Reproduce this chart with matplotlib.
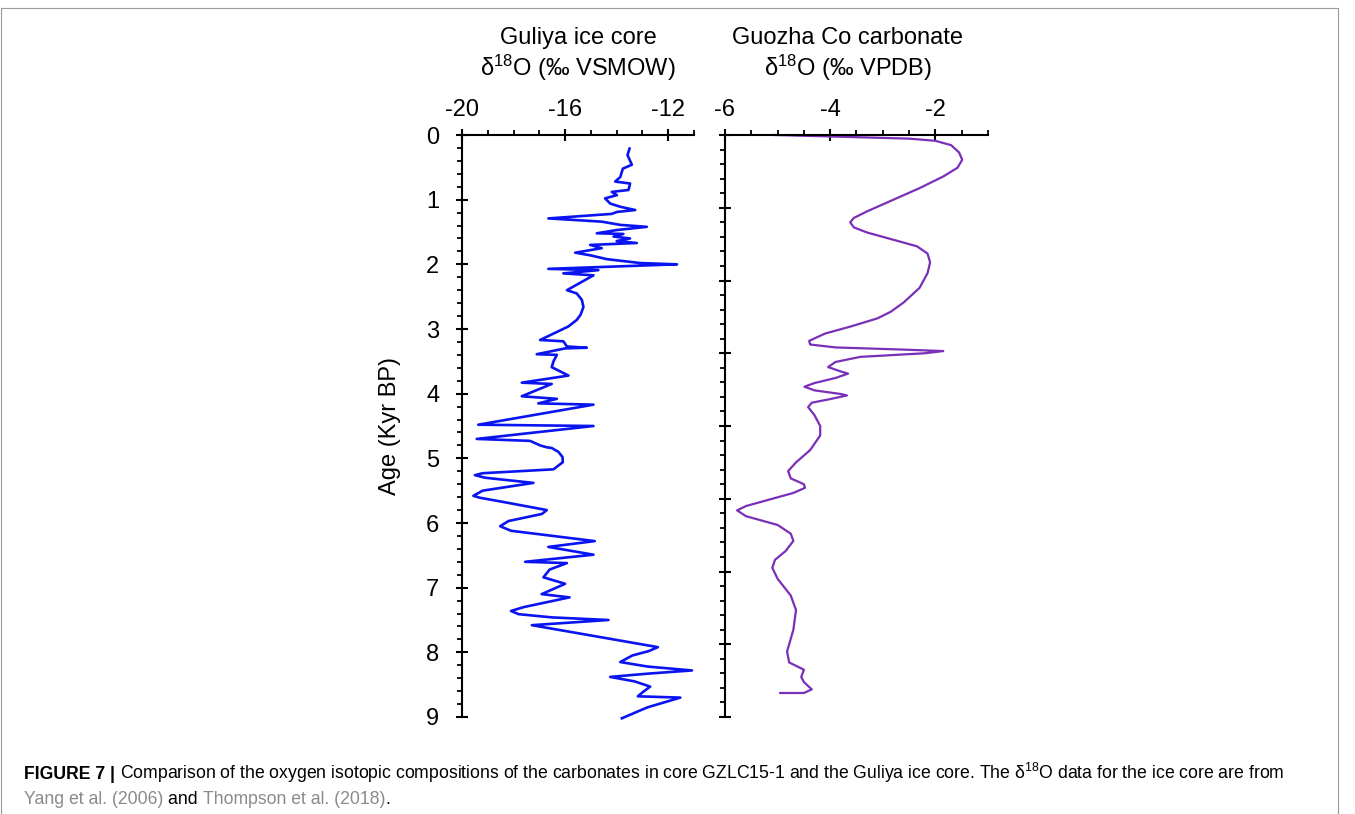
import matplotlib
matplotlib.use("Agg")
import matplotlib.pyplot as plt
from matplotlib.ticker import MultipleLocator
from matplotlib.lines import Line2D

plt.rcParams['font.family'] = ['Liberation Sans', 'DejaVu Sans']
plt.rcParams['mathtext.fontset'] = 'custom'
plt.rcParams['mathtext.rm'] = 'Liberation Sans'
plt.rcParams['mathtext.it'] = 'Liberation Sans:italic'
plt.rcParams['axes.unicode_minus'] = False

# Guliya ice core d18O (permil VSMOW) vs age (kyr BP)
guliya_age = [0.21, 0.31, 0.46, 0.52, 0.65, 0.72, 0.75, 0.85, 0.88, 0.93, 0.98, 1.06, 1.11, 1.16,
              1.19, 1.22, 1.29, 1.34, 1.39, 1.42, 1.47, 1.52, 1.53, 1.57, 1.60, 1.64, 1.67, 1.70,
              1.75, 1.82, 1.86, 1.92, 1.98, 2.00, 2.07, 2.09, 2.14, 2.17, 2.40, 2.45, 2.55, 2.66,
              2.78, 2.86, 2.96, 3.17, 3.19, 3.27, 3.29, 3.30, 3.39, 3.40, 3.50, 3.59, 3.72, 3.83,
              3.85, 4.04, 4.08, 4.15, 4.17, 4.48, 4.50, 4.70, 4.73, 4.80, 4.83, 4.84, 4.90, 4.98,
              5.06, 5.17, 5.23, 5.26, 5.30, 5.38, 5.50, 5.58, 5.61, 5.66, 5.80, 5.86, 5.97, 6.05,
              6.12, 6.28, 6.37, 6.49, 6.60, 6.62, 6.72, 6.84, 6.94, 7.10, 7.15, 7.30, 7.36, 7.41,
              7.46, 7.50, 7.58, 7.92, 7.98, 8.05, 8.15, 8.22, 8.28, 8.33, 8.38, 8.45, 8.53, 8.62,
              8.68, 8.70, 8.85, 9.02]
guliya_d18o = [-13.50, -13.58, -13.41, -13.76, -13.86, -14.06, -13.48, -13.54, -14.19, -13.99, -14.45,
               -14.25, -13.86, -13.28, -13.99, -14.19, -16.65, -14.58, -13.86, -12.83, -14.0, -14.77,
               -13.74, -14.12, -13.48, -14.0, -13.22, -15.03, -14.58, -15.61, -15.03, -14.38, -13.09,
               -11.66, -16.65, -14.71, -16.07, -14.90, -15.93, -15.55, -15.35, -15.29, -15.40, -15.55,
               -15.87, -16.97, -16.07, -15.93, -15.16, -16.0, -17.10, -16.32, -16.45, -16.52, -15.87,
               -17.68, -16.52, -17.68, -16.32, -17.04, -14.90, -19.37, -14.90, -19.43, -17.36, -16.97,
               -16.71, -16.52, -16.26, -16.10, -16.09, -16.45, -19.20, -19.50, -19.10, -17.23, -19.20,
               -19.56, -19.30, -18.60, -16.71, -16.90, -18.20, -18.52, -18.10, -14.85, -16.65, -14.90,
               -17.55, -15.93, -16.60, -16.84, -16.00, -16.91, -15.83, -17.60, -18.10, -17.80, -16.50,
               -14.32, -17.29, -12.40, -12.75, -13.40, -13.86, -12.80, -11.08, -12.80, -14.25, -13.30,
               -12.70, -13.00, -13.18, -11.53, -12.80, -13.80]

# Guozha Co carbonate d18O (permil VPDB), vertical position in the panel's own tick units
carb_pos = [0.0, 0.02, 0.05, 0.08, 0.14, 0.24, 0.34, 0.45, 0.57, 0.73, 0.89, 1.05, 1.14, 1.20,
            1.27, 1.34, 1.44, 1.53, 1.63, 1.75, 1.90, 2.10, 2.30, 2.43, 2.52, 2.63, 2.73, 2.83,
            2.88, 2.92, 2.95, 2.97, 3.00, 3.05, 3.12, 3.19, 3.25, 3.28, 3.34, 3.41, 3.46, 3.51,
            3.56, 3.58, 3.63, 3.68, 3.74, 3.85, 4.00, 4.13, 4.33, 4.50, 4.62, 4.72, 4.80, 4.85,
            4.92, 5.02, 5.10, 5.16, 5.24, 5.36, 5.48, 5.58, 5.72, 5.84, 5.95, 6.10, 6.33, 6.53,
            6.80, 7.10, 7.25, 7.35, 7.45, 7.52, 7.62, 7.67, 7.67]
carb_d18o = [-5.05, -4.0, -2.5, -2.0, -1.7, -1.55, -1.49, -1.58, -1.85, -2.3, -2.8, -3.3, -3.55,
             -3.62, -3.55, -3.3, -2.8, -2.35, -2.15, -2.1, -2.15, -2.3, -2.6, -2.85, -3.1, -3.6,
             -4.1, -4.4, -4.38, -3.9, -2.6, -1.85, -2.2, -3.43, -3.9, -4.04, -3.8, -3.66, -3.9,
             -4.3, -4.49, -4.3, -3.8, -3.68, -4.0, -4.35, -4.42, -4.3, -4.19, -4.19, -4.38, -4.65,
             -4.8, -4.75, -4.5, -4.48, -4.7, -5.2, -5.6, -5.77, -5.6, -5.0, -4.75, -4.70, -4.85,
             -5.05, -5.1, -5.0, -4.75, -4.65, -4.7, -4.82, -4.78, -4.5, -4.55, -4.5, -4.35, -4.5,
             -4.95]

W, H = 1355, 814
fig = plt.figure(figsize=(W / 100, H / 100), dpi=100)

def fbox(x0, y0, x1, y1):
    return [x0 / W, 1 - y1 / H, (x1 - x0) / W, (y1 - y0) / H]

ax1 = fig.add_axes(fbox(462, 135, 694, 717))
ax2 = fig.add_axes(fbox(725, 135, 988, 717))

ax1.plot(guliya_d18o, guliya_age, color='#0a14f0', lw=1.9, solid_joinstyle='round', clip_on=False)
ax2.plot(carb_d18o, carb_pos, color='#7a2fb8', lw=1.6, solid_joinstyle='round', clip_on=False)

ax1.set_xlim(-20, -11)
ax1.set_ylim(9, 0)
ax1.xaxis.set_major_locator(MultipleLocator(4))
ax1.xaxis.set_minor_locator(MultipleLocator(1))
ax1.yaxis.set_major_locator(MultipleLocator(1))
ax1.yaxis.set_minor_locator(MultipleLocator(0.2))
ax1.set_ylabel('Age (Kyr BP)', fontsize=17, labelpad=18)

ax2.set_xlim(-6, -1)
ax2.set_ylim(8, 0)
ax2.xaxis.set_major_locator(MultipleLocator(2))
ax2.xaxis.set_minor_locator(MultipleLocator(0.5))
ax2.yaxis.set_major_locator(MultipleLocator(1))
ax2.yaxis.set_minor_locator(MultipleLocator(0.2))
ax2.tick_params(axis='y', which='both', labelleft=False)

for ax in (ax1, ax2):
    for s in ('right', 'bottom'):
        ax.spines[s].set_visible(False)
    for s in ('top', 'left'):
        ax.spines[s].set_linewidth(1.5)
    ax.xaxis.tick_top()
    ax.tick_params(which='major', direction='inout', length=8.5, width=1.5, labelsize=17, pad=6)
    ax.tick_params(which='minor', direction='out', length=3.5, width=1.3)
    ax.tick_params(axis='y', which='major', pad=12)
    ax.set_facecolor('none')

fig.text(578 / W, 1 - 38 / H, 'Guliya ice core', ha='center', va='center', fontsize=17)
fig.text(578 / W, 1 - 68 / H, r'δ$^{18}$O (‰ VSMOW)', ha='center', va='center', fontsize=17)
fig.text(848 / W, 1 - 38 / H, 'Guozha Co carbonate', ha='center', va='center', fontsize=17)
fig.text(848 / W, 1 - 68 / H, r'δ$^{18}$O (‰ VPDB)', ha='center', va='center', fontsize=17)

# caption, drawn piece by piece
cap_size = 12.7
gray = '#8a8a8a'
renderer = fig.canvas.get_renderer()

def put_line(pieces, x_px, y_px):
    x = x_px
    for txt, weight, color in pieces:
        t = fig.text(x / W, 1 - y_px / H, txt, fontsize=cap_size, fontweight=weight,
                     color=color, ha='left', va='baseline')
        bb = t.get_window_extent(renderer=renderer)
        x += bb.width

put_line([('FIGURE 7 | ', 'bold', 'black'),
          ('Comparison of the oxygen isotopic compositions of the carbonates in core GZLC15-1 '
           'and the Guliya ice core. The δ$^{18}$O data for the ice core are from', 'normal', 'black')],
         24, 779)
put_line([('Yang et al. (2006) ', 'normal', gray), ('and ', 'normal', 'black'),
          ('Thompson et al. (2018)', 'normal', gray), ('.', 'normal', 'black')], 24, 804)

# outer frame
for xs, ys in (([1, 1338], [8, 8]), ([1338, 1338], [8, 814]), ([1, 1], [8, 814])):
    fig.add_artist(Line2D([x / W for x in xs], [1 - y / H for y in ys], color='#9a9a9a', lw=0.8))

fig.savefig('out.png', dpi=100)
